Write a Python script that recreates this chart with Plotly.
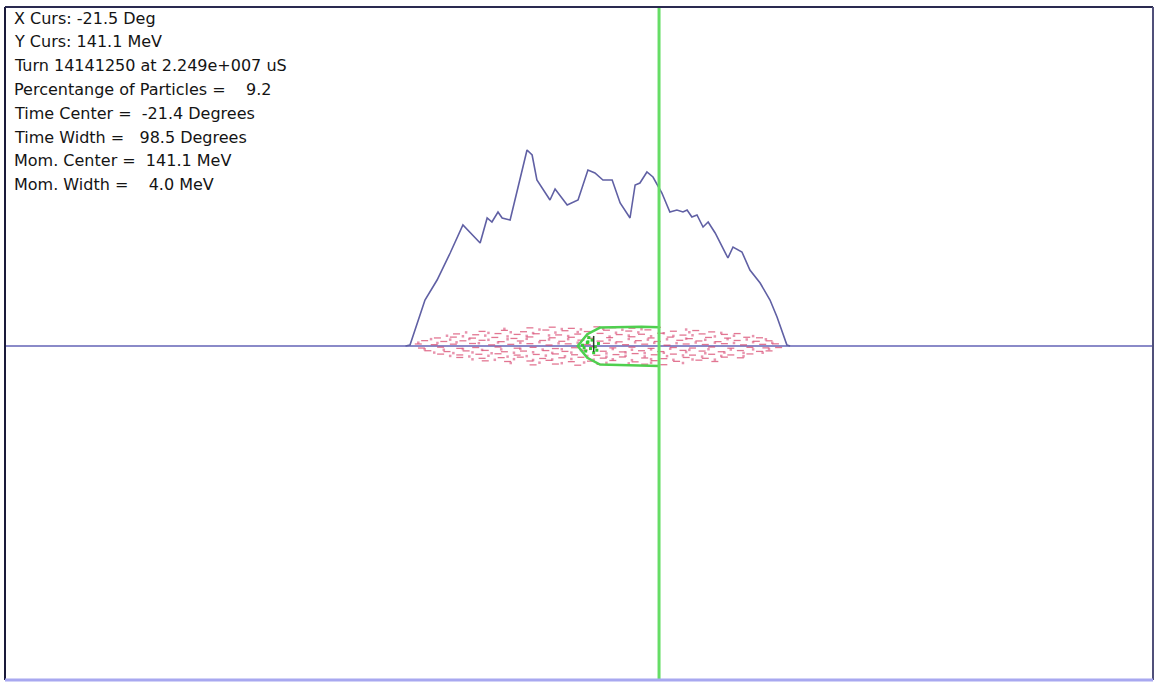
import plotly.graph_objects as go

# ---- readout text (cursor and bunch statistics) ----
info_lines = [
    "X Curs: -21.5 Deg",
    "Y Curs: 141.1 MeV",
    "Turn 14141250 at 2.249e+007 uS",
    "Percentange of Particles =    9.2",
    "Time Center =  -21.4 Degrees",
    "Time Width =   98.5 Degrees",
    "Mom. Center =  141.1 MeV",
    "Mom. Width =    4.0 MeV",
]

# ---- cursor position ----
x_cursor_deg = -21.5
y_cursor_mev = 141.1

# ---- phase histogram (deg, counts) ----
hist_phase = [-101.0, -99.6, -94.9, -91.1, -87.0, -83.0, -77.6, -75.4, -73.9, -72.0,
              -70.7, -68.2, -65.7, -62.9, -61.3, -59.8, -55.7, -54.1, -50.3, -46.9,
              -43.8, -41.6, -39.1, -36.2, -33.7, -30.6, -29.0, -27.5, -25.3, -23.4,
              -20.6, -18.1, -15.9, -14.0, -12.7, -11.2, -9.6, -7.7, -6.1, -3.9,
              0.1, 1.7, 4.5, 7.0, 10.2, 13.3, 15.5, 18.6, 19.6]
hist_counts = [0, 1, 46, 66, 93, 121, 103, 128, 124, 134,
               128, 126, 159, 196, 191, 166, 146, 157, 141, 146,
               176, 173, 166, 166, 143, 128, 161, 163, 174, 169,
               153, 134, 136, 134, 136, 129, 131, 119, 124, 113,
               88, 99, 94, 76, 63, 46, 29, 1, 0]

# ---- longitudinal phase space particles (deg, MeV), drawn as short dashes ----
particle_phase = [
    -62, -55, -49, -41, -36, -30, -22,
    -77, -70, -64, -57, -51, -44, -38, -31, -25, -17, -10, -5,
    -85, -79, -72, -66, -60, -53, -47, -40, -34, -27, -21, -14, -8, -1, 3,
    -91, -86, -80, -73, -67, -62, -55, -49, -43, -37, -30, -24, -18, -12, -6, 0, 6, 10,
    -95, -89, -83, -77, -71, -65, -58, -52, -46, -40, -34, -28, -22, -15, -9, -3, 3, 9, 13,
    -97, -92, -86, -80, -74, -68, -62, -56, -50, -44, -38, -32, -26, -19, -13, -7, -1, 5, 11, 15,
    -96, -90, -84, -79, -72, -66, -61, -54, -48, -42, -36, -30, -24, -17, -11, -5, 1, 7, 12, 16,
    -94, -88, -82, -76, -70, -64, -57, -51, -45, -39, -33, -27, -21, -14, -8, -2, 4, 10, 13,
    -90, -84, -78, -72, -66, -60, -54, -48, -41, -35, -29, -23, -17, -11, -5, 1, 7,
    -84, -77, -71, -65, -58, -52, -46, -39, -33, -26, -20, -13, -7, -1, 4,
    -76, -69, -62, -56, -49, -43, -36, -29, -23, -16, -9, -4,
    -61, -54, -47, -40, -33, -26, -20,
]
particle_mev = [
    142.18, 142.22, 142.15, 142.24, 142.19, 142.16, 142.21,
    141.97, 142.03, 141.95, 142.05, 142.01, 141.96, 142.04, 141.99, 142.06, 141.98, 142.02, 141.94,
    141.82, 141.77, 141.84, 141.79, 141.83, 141.76, 141.81, 141.85, 141.78, 141.80, 141.86, 141.75, 141.82, 141.79, 141.84,
    141.58, 141.63, 141.57, 141.61, 141.55, 141.64, 141.59, 141.62, 141.56, 141.60, 141.65, 141.58, 141.63, 141.54, 141.61, 141.57, 141.62, 141.59,
    141.42, 141.37, 141.41, 141.44, 141.36, 141.40, 141.43, 141.38, 141.45, 141.39, 141.35, 141.42, 141.37, 141.44, 141.40, 141.36, 141.43, 141.38, 141.41,
    141.22, 141.18, 141.21, 141.25, 141.17, 141.20, 141.24, 141.16, 141.23, 141.19, 141.26, 141.18, 141.21, 141.15, 141.22, 141.19, 141.24, 141.17, 141.20, 141.23,
    140.98, 141.03, 140.96, 141.01, 141.04, 140.97, 141.02, 140.95, 141.00, 141.05, 140.99, 141.03, 140.96, 141.01, 140.98, 141.04, 140.97, 141.02, 140.99, 141.01,
    140.82, 140.77, 140.81, 140.84, 140.76, 140.80, 140.83, 140.78, 140.85, 140.79, 140.75, 140.82, 140.77, 140.84, 140.80, 140.76, 140.83, 140.78, 140.81,
    140.62, 140.57, 140.61, 140.64, 140.56, 140.60, 140.63, 140.58, 140.55, 140.59, 140.65, 140.58, 140.62, 140.56, 140.61, 140.57, 140.63,
    140.42, 140.37, 140.41, 140.44, 140.36, 140.40, 140.43, 140.38, 140.45, 140.39, 140.35, 140.42, 140.37, 140.44, 140.40,
    140.22, 140.18, 140.21, 140.25, 140.17, 140.20, 140.24, 140.16, 140.23, 140.19, 140.26, 140.18,
    139.98, 140.03, 139.96, 140.01, 139.95, 140.02, 139.99,
]

# ---- further particles, drawn as dots ----
dot_phase = [
    -70, -59, -52, -46, -39, -33, -27, -13,
    -82, -75, -68, -61, -54, -47, -35, -28, -20, -12, -2,
    -88, -83, -76, -69, -63, -56, -50, -44, -37, -31, -24, -17, -11, -4, 2, 8,
    -93, -87, -81, -75, -69, -63, -56, -50, -37, -31, -25, -19, -13, -7, 0, 6, 12,
    -97, -91, -85, -78, -72, -65, -59, -53, -47, -35, -29, -23, -16, -10, -4, 2, 8, 14,
    -95, -89, -83, -77, -71, -65, -58, -52, -46, -36, -30, -24, -18, -12, -6, 1, 8, 13,
    -92, -86, -80, -74, -67, -61, -55, -49, -38, -32, -26, -20, -13, -7, -1, 5, 11,
    -87, -81, -75, -69, -63, -57, -51, -44, -38, -32, -26, -19, -14, -8, -2, 5,
    -80, -73, -67, -61, -55, -49, -42, -36, -30, -24, -17, -11, -4,
    -68, -59, -52, -45, -38, -31, -24, -14,
]
dot_mev = [
    142.12, 142.08, 142.11, 142.09, 142.13, 142.07, 142.10, 142.08,
    141.91, 141.88, 141.92, 141.87, 141.90, 141.93, 141.89, 141.91, 141.86, 141.92, 141.88,
    141.71, 141.68, 141.72, 141.67, 141.70, 141.73, 141.69, 141.71, 141.66, 141.72, 141.68, 141.70, 141.74, 141.67, 141.71, 141.69,
    141.51, 141.48, 141.52, 141.47, 141.50, 141.53, 141.49, 141.51, 141.46, 141.52, 141.48, 141.50, 141.54, 141.47, 141.51, 141.49, 141.50,
    141.30, 141.28, 141.32, 141.27, 141.31, 141.29, 141.33, 141.26, 141.30, 141.28, 141.32, 141.29, 141.27, 141.31, 141.30, 141.28, 141.33, 141.29,
    140.91, 140.88, 140.92, 140.87, 140.90, 140.93, 140.89, 140.91, 140.86, 140.92, 140.88, 140.90, 140.94, 140.87, 140.91, 140.89, 140.90, 140.92,
    140.71, 140.68, 140.72, 140.67, 140.70, 140.73, 140.69, 140.71, 140.66, 140.72, 140.68, 140.70, 140.74, 140.67, 140.71, 140.69, 140.70,
    140.51, 140.48, 140.52, 140.47, 140.50, 140.53, 140.49, 140.51, 140.46, 140.52, 140.48, 140.50, 140.54, 140.47, 140.51, 140.49,
    140.31, 140.28, 140.32, 140.27, 140.30, 140.33, 140.29, 140.31, 140.26, 140.32, 140.28, 140.30, 140.29,
    140.09, 140.11, 140.08, 140.12, 140.10, 140.07, 140.11, 140.09,
]

# ---- selected region outline (deg, MeV) ----
sel_phase = [-21.5, -27.0, -40.0, -44.0, -47.0, -44.0, -40.0, -30.0, -21.5]
sel_mev = [142.22, 142.25, 142.20, 141.80, 141.10, 140.40, 140.00, 139.95, 139.92]

# selected particles clustered near the left tip
sel_dot_phase = [-45.5, -44.0, -43.0, -42.5, -44.5, -41.5, -43.5, -42.0, -45.0, -40.5, -41.0, -43.8]
sel_dot_mev = [141.15, 141.30, 140.95, 141.45, 140.80, 141.05, 141.60, 140.70, 141.00, 141.25, 140.85, 141.35]

# dark marker at the tip of the selection
tip_phase = [-42.0, -42.0]
tip_mev = [141.70, 140.75]

# ---- canvas geometry ----
W, H = 1156, 683
PL, PR, PT, PB = 5, 1153, 7, 680           # plot area in pixels
X_RANGE = [-226.6, 133.4]
Y_RANGE = [121.25, 161.25]
AXIS_PY = 346                              # pixel row of the momentum cursor

DASH_RED = "rgba(214,60,100,0.7)"
DOT_RED = "rgba(220,90,130,0.65)"

fig = go.Figure()

# phase-space particles
fig.add_trace(go.Scatter(
    x=particle_phase, y=particle_mev, mode="markers",
    marker=dict(symbol="line-ew-open", size=5, color=DASH_RED,
                line=dict(width=1.3, color=DASH_RED)),
    hoverinfo="skip", showlegend=False))
fig.add_trace(go.Scatter(
    x=dot_phase, y=dot_mev, mode="markers",
    marker=dict(symbol="square", size=2.5, color=DOT_RED, line=dict(width=0)),
    hoverinfo="skip", showlegend=False))

# selected particles
fig.add_trace(go.Scatter(
    x=sel_dot_phase, y=sel_dot_mev, mode="markers",
    marker=dict(symbol="square", size=3, color="#33cc33"),
    hoverinfo="skip", showlegend=False))
fig.add_trace(go.Scatter(
    x=sel_phase, y=sel_mev, mode="lines",
    line=dict(color="#4fcf4f", width=2.5),
    hoverinfo="skip", showlegend=False))
fig.add_trace(go.Scatter(
    x=tip_phase, y=tip_mev, mode="lines",
    line=dict(color="#2a3a2a", width=1.5),
    hoverinfo="skip", showlegend=False))

# phase histogram on its own vertical scale (baseline on the cursor line)
fig.add_trace(go.Scatter(
    x=hist_phase, y=hist_counts, mode="lines", yaxis="y2",
    line=dict(color="#6060a4", width=1.6),
    hoverinfo="skip", showlegend=False))

# cursor lines
fig.add_shape(type="line", xref="paper", yref="y", x0=0, x1=1,
              y0=y_cursor_mev, y1=y_cursor_mev,
              line=dict(color="#8a8ac8", width=2), layer="below")
fig.add_shape(type="line", xref="x", yref="paper", x0=x_cursor_deg, x1=x_cursor_deg,
              y0=0, y1=1, line=dict(color="#66dd66", width=3))

# frame
fig.add_shape(type="line", xref="paper", yref="paper", x0=0, x1=0, y0=0, y1=1,
              line=dict(color="#1a1a3a", width=2))
fig.add_shape(type="line", xref="paper", yref="paper", x0=0, x1=1, y0=1, y1=1,
              line=dict(color="#2a2a50", width=2))
fig.add_shape(type="line", xref="paper", yref="paper", x0=1, x1=1, y0=0, y1=1,
              line=dict(color="#50507a", width=2))
fig.add_shape(type="line", xref="paper", yref="paper", x0=0, x1=1, y0=0, y1=0,
              line=dict(color="#a8a8f0", width=3))

# readout text
for i, line in enumerate(info_lines):
    py = 18 + i * 23.8
    fig.add_annotation(
        text=line, xref="paper", yref="paper",
        x=(12 - PL) / (PR - PL), y=(PB - py) / (PB - PT),
        xanchor="left", yanchor="middle", showarrow=False,
        font=dict(family="DejaVu Sans, Verdana, sans-serif", size=16, color="#141414"))

fig.update_layout(
    width=W, height=H,
    margin=dict(l=PL, r=W - PR, t=PT, b=H - PB, pad=0),
    paper_bgcolor="white", plot_bgcolor="white",
    xaxis=dict(range=X_RANGE, visible=False, fixedrange=True),
    yaxis=dict(range=Y_RANGE, visible=False, fixedrange=True),
    yaxis2=dict(range=[-(PB - AXIS_PY), AXIS_PY - PT], overlaying="y",
                visible=False, fixedrange=True),
    showlegend=False,
)

fig.write_html("out.html")
